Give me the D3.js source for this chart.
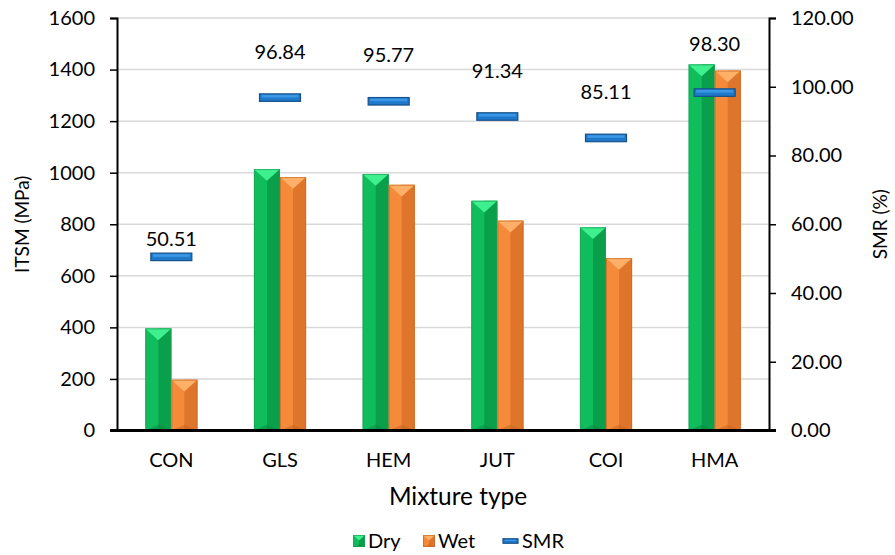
<!DOCTYPE html>
<html><head><meta charset="utf-8">
<script src="https://cdn.jsdelivr.net/npm/d3@7"></script>
<style>
html,body{margin:0;padding:0;background:#fff;}
svg text{font-family:Lato,"Noto Sans",sans-serif;fill:#000;}
</style></head>
<body><svg id="c" width="895" height="555"></svg>
<script>
const categories = ["CON","GLS","HEM","JUT","COI","HMA"];
const dryValues = [396, 1014, 995, 891, 788, 1420];
const wetValues = [197, 983, 953, 814, 669, 1396];
const smrValues = [50.51, 96.84, 95.77, 91.34, 85.11, 98.30];
// level (on the SMR axis) at which each SMR data label sits
const smrLabelLevel = [55.7, 110.1, 109.1, 104.6, 98.6, 112.4];
const leftTicks = [0,200,400,600,800,1000,1200,1400,1600];
const rightTicks = [0,20,40,60,80,100,120];
const seriesNames = ["Dry","Wet","SMR"];

const svg = d3.select("#c");
const L = 117, R = 769, T = 18, B = 430.5;

const x0 = d3.scaleBand().domain(categories).range([L,R]).paddingInner(0.52).paddingOuter(0.26);
const x1 = d3.scaleBand().domain(["Dry","Wet"]).range([0,x0.bandwidth()]);
const yL = d3.scaleLinear().domain([0,1600]).range([B,T]);
const yR = d3.scaleLinear().domain([0,120]).range([B,T]);

// gridlines
svg.append("g").selectAll("line").data(leftTicks.filter(d=>d>0)).join("line")
  .attr("x1",L).attr("x2",R).attr("y1",d=>yL(d)).attr("y2",d=>yL(d))
  .attr("stroke","#d9d9d9").attr("stroke-width",1.5);

const palette = {
  Dry:{main:"#10bd5c", dark:"#0a9f4b", top:"#3ff08f", bottom:"#07893f", edge:"#1d9e55"},
  Wet:{main:"#f58a3a", dark:"#de752a", top:"#ffb068", bottom:"#c4641f", edge:"#c86b27"}
};

function drawBar(g, key, cx, w, yTop, yBot){
  const p = palette[key];
  const h = yBot - yTop;
  const b = Math.min(w/2*0.9, h/2);
  const xl = cx, xr = cx + w;
  g.append("rect").attr("x",xl).attr("y",yTop).attr("width",w).attr("height",h).attr("fill",p.main);
  g.append("rect").attr("x",xl+w/2).attr("y",yTop).attr("width",w/2).attr("height",h).attr("fill",p.dark);
  g.append("polygon").attr("points",[[xl,yTop],[xr,yTop],[xl+w/2,yTop+b]].join(" ")).attr("fill",p.top);
  g.append("polygon").attr("points",[[xl,yBot],[xr,yBot],[xl+w/2,yBot-b*0.5]].join(" ")).attr("fill",p.bottom).attr("opacity",0.5);
  g.append("rect").attr("x",xl+0.5).attr("y",yTop+0.5).attr("width",w-1).attr("height",h-1)
    .attr("fill","none").attr("stroke",p.edge).attr("stroke-width",1).attr("opacity",0.7);
}

const barsG = svg.append("g");
categories.forEach((c,i)=>{
  drawBar(barsG,"Dry",x0(c)+x1("Dry"),x1.bandwidth(),yL(dryValues[i]),yL(0));
  drawBar(barsG,"Wet",x0(c)+x1("Wet"),x1.bandwidth(),yL(wetValues[i]),yL(0));
});

// SMR markers
const mw = 41, mh = 7.5;
function drawDash(g, cx, cy, w, h){
  g.append("rect").attr("x",cx-w/2).attr("y",cy-h/2).attr("width",w).attr("height",h)
    .attr("fill","#1f78c8").attr("stroke","#16518a").attr("stroke-width",1.2);
  g.append("rect").attr("x",cx-w/2+2).attr("y",cy-h/2+1).attr("width",w-4).attr("height",h/2-1)
    .attr("fill","#3a97e6");
}
const smrG = svg.append("g");
categories.forEach((c,i)=>{
  const cx = x0(c)+x0.bandwidth()/2;
  drawDash(smrG, cx, yR(smrValues[i]), mw, mh);
  smrG.append("text").attr("x",cx).attr("y",yR(smrLabelLevel[i])).attr("dy","0.35em")
    .attr("text-anchor","middle").attr("font-size",20).text(smrValues[i].toFixed(2));
});

// axes
const axL = d3.axisLeft(yL).tickValues(leftTicks).tickFormat(d3.format("d")).tickSize(7).tickPadding(15);
const gL = svg.append("g").attr("transform",`translate(${L},0)`).call(axL);
gL.select(".domain").attr("stroke","#000").attr("stroke-width",2);
gL.selectAll(".tick line").attr("stroke","#000").attr("stroke-width",1.5);
gL.selectAll("text").attr("font-size",20).attr("font-family","Lato");

const axR = d3.axisRight(yR).tickValues(rightTicks).tickFormat(d=>d.toFixed(2)).tickSize(7).tickPadding(15);
const gR = svg.append("g").attr("transform",`translate(${R},0)`).call(axR);
gR.select(".domain").attr("stroke","#000").attr("stroke-width",2);
gR.selectAll(".tick line").attr("stroke","#000").attr("stroke-width",1.5);
gR.selectAll("text").attr("font-size",20).attr("font-family","Lato");

const axB = d3.axisBottom(x0).tickSize(0).tickPadding(22);
const gB = svg.append("g").attr("transform",`translate(0,${B})`).call(axB);
gB.select(".domain").attr("stroke","#000").attr("stroke-width",3).attr("d",`M${L-7},0H${R+7}`);
gB.selectAll("text").attr("font-size",20).attr("font-family","Lato");

// titles
svg.append("text").attr("x",458).attr("y",505).attr("text-anchor","middle")
  .attr("font-size",24.4).text("Mixture type");
svg.append("text").attr("transform",`translate(22,${(T+B)/2}) rotate(-90)`).attr("dy","0.35em")
  .attr("text-anchor","middle").attr("font-size",19).text("ITSM (MPa)");
svg.append("text").attr("transform",`translate(880,${(T+B)/2}) rotate(-90)`).attr("dy","0.35em")
  .attr("text-anchor","middle").attr("font-size",19).text("SMR (%)");

// legend
const lg = svg.append("g");
const ly = 541;
const legendX = [353, 423, 503];
seriesNames.forEach((s,i)=>{
  const lx = legendX[i];
  if(s==="SMR"){
    drawDash(lg, lx+7.5, ly, 15, 4.5);
    lg.append("text").attr("x",lx+19).attr("y",ly).attr("dy","0.35em").attr("font-size",20).text(s);
  } else {
    drawBar(lg, s, lx, 12, ly-6, ly+6);
    lg.append("text").attr("x",lx+15).attr("y",ly).attr("dy","0.35em").attr("font-size",20).text(s);
  }
});
</script></body></html>
